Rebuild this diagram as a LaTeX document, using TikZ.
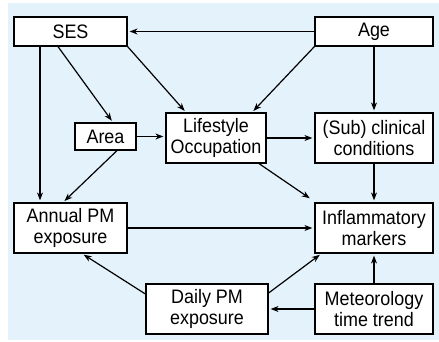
\documentclass[tikz,border=0pt]{standalone}
\usepackage{fontspec}
\setmainfont[FakeStretch=0.92]{Liberation Sans}
\usetikzlibrary{arrows.meta}
\definecolor{bgblue}{RGB}{228,243,251}
\begin{document}
\begin{tikzpicture}[x=1pt,y=-1pt,
  box/.style={draw=black,line width=1.2pt,fill=white,align=center,inner sep=0pt,
    font=\fontsize{19.5}{21.5}\selectfont},
  arr/.style={line width=1.2pt,-{Stealth[length=8pt,width=6pt]},shorten >=2pt}]
\useasboundingbox (0,0) rectangle (439,342);
\fill[bgblue] (8,3) rectangle (439,340);
\node[box,minimum width=113pt,minimum height=29pt] (SES) at (70.5,31.5) {SES};
\node[box,minimum width=118pt,minimum height=29pt] (Age) at (374,31.5) {Age};
\node[box,minimum width=61pt,minimum height=27pt] (Area) at (105.5,136.5) {Area};
\node[box,minimum width=100pt,minimum height=50pt] (Life) at (216,138) {Lifestyle\\Occupation};
\node[box,minimum width=118pt,minimum height=50pt] (Sub) at (374,138) {(Sub) clinical\\conditions};
\node[box,minimum width=113pt,minimum height=50pt] (Ann) at (70.5,228) {Annual PM\\exposure};
\node[box,minimum width=118pt,minimum height=50pt] (Inf) at (374,228) {Inflammatory\\markers};
\node[box,minimum width=122pt,minimum height=50pt] (Day) at (207,309) {Daily PM\\exposure};
\node[box,minimum width=118pt,minimum height=50pt] (Met) at (374,309) {Meteorology\\time trend};
\draw[arr] (Age.west) -- (SES.east);
\draw[arr] ([xshift=-30.5pt]SES.south) -- ([xshift=-30.5pt]Ann.north);
\draw[arr] ([xshift=-12.5pt]SES.south) -- ([xshift=7.5pt]Area.north);
\draw[arr] (SES.south east) -- ([xshift=-30pt]Life.north);
\draw[arr] (Area.east) -- (Area.east -| Life.west);
\draw[arr] ([xshift=11.5pt]Area.south) -- ([xshift=-7.5pt]Ann.north);
\draw[arr] (Age.south west) -- ([xshift=36pt]Life.north);
\draw[arr] (Age.south) -- (Sub.north);
\draw[arr] (Life.east) -- (Sub.west);
\draw[arr] ([xshift=43pt]Life.south) -- ([xshift=-3pt,yshift=3pt]Inf.north west);
\draw[arr] (Sub.south) -- (Inf.north);
\draw[arr] (Ann.east) -- (Inf.west);
\draw[arr] ([yshift=15pt]Day.west) -- ([xshift=11.5pt]Ann.south);
\draw[arr] ([yshift=16pt]Day.east) -- ([xshift=7pt]Inf.south west);
\draw[arr] (Met.west) -- (Day.east);
\draw[arr] (Met.north) -- (Inf.south);
\end{tikzpicture}
\end{document}
